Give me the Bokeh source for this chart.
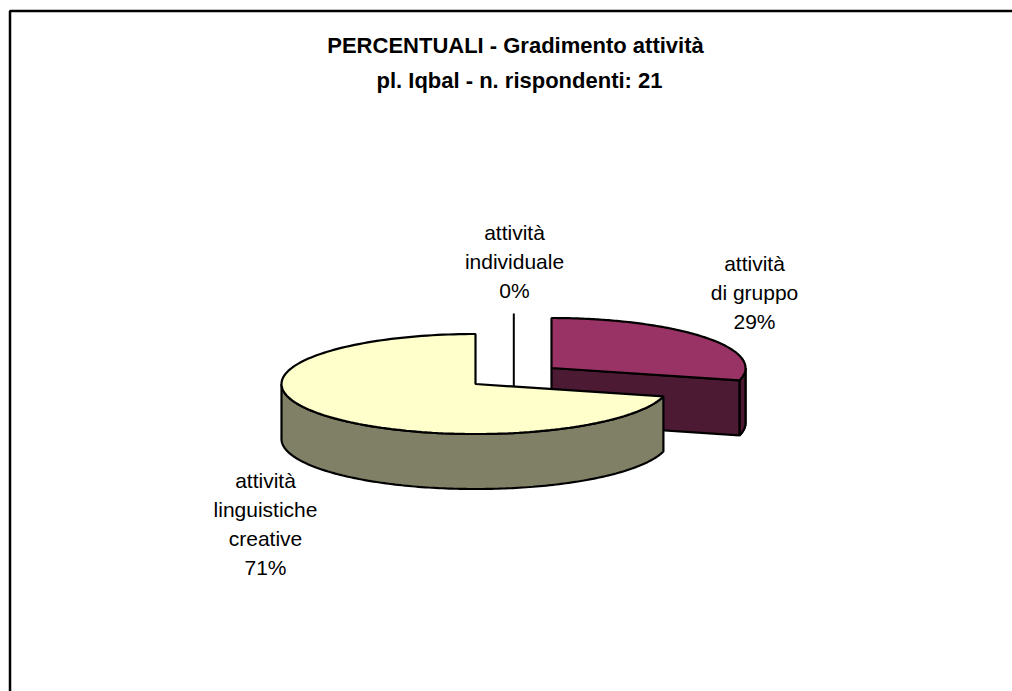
import numpy as np
from bokeh.plotting import figure
from bokeh.models import Range1d
from bokeh.core.properties import value
from bokeh.embed import file_html
from bokeh.resources import INLINE

title_lines = ["PERCENTUALI - Gradimento attività", "pl. Iqbal - n. rispondenti: 21"]
categories = ["attività\ndi gruppo", "attività\nindividuale", "attività\nlinguistiche\ncreative"]
percents = [29, 0, 71]
top_colors = ["#993366", "#FFFFFF", "#FFFFCC"]
side_colors = ["#4D1A33", "#808080", "#808066"]

W, H = 1012, 691
p = figure(width=W, height=H, output_backend="svg", toolbar_location=None,
           x_range=Range1d(0, W), y_range=Range1d(H, 0),
           min_border=0, outline_line_color=None, background_fill_color="white",
           border_fill_color="white")
p.axis.visible = False
p.grid.visible = False

# frame: left and top only reach the picture's edges
p.line([9.5, 9.5, W], [H, 10.5, 10.5], line_color="black", line_width=2.5)

RX, RY, DEPTH = 194, 50, 55
CX, CY = 475, 383.5
EXPLODE = {0: (76, -16), 1: (38, -2), 2: (0, 0)}

def pt(cx, cy, deg):
    a = np.radians(deg)
    return cx + RX * np.sin(a), cy - RY * np.cos(a)

shares = np.array(percents) / sum(percents) * 360
starts = np.concatenate([[0], np.cumsum(shares)[:-1]])
ends = starts + shares

def arc(cx, cy, a0, a1):
    t = np.linspace(a0, a1, 160)
    return pt(cx, cy, t)

def draw_slice(i):
    dx, dy = EXPLODE[i]
    cx, cy = CX + dx, CY + dy
    a0, a1 = starts[i], ends[i]
    lo, hi = max(a0, 90), min(a1, 270)
    if hi > lo:
        xs, ys = arc(cx, cy, lo, hi)
        p.patch(np.r_[xs, xs[::-1]], np.r_[ys, ys[::-1] + DEPTH],
                fill_color=side_colors[i], line_color="black", line_width=2.2)
    if i == 0:
        xs, ys = arc(cx, cy, 90, a1)
        p.patch(np.r_[xs, xs[::-1]], np.r_[ys, ys[::-1] + DEPTH],
                fill_color=side_colors[i], line_color="black", line_width=2.2)
        ex, ey = pt(cx, cy, a1)
        p.patch([cx, ex, ex, cx], [cy, ey, ey + DEPTH, cy + DEPTH],
                fill_color=side_colors[i], line_color="black", line_width=2.2)
    xs, ys = arc(cx, cy, a0, a1)
    p.patch(np.r_[cx, xs], np.r_[cy, ys], fill_color=top_colors[i],
            line_color="black", line_width=2.2)

draw_slice(0)
# the empty slice only shows as a single upright stroke
p.line([513.3, 513.3], [313, 386], line_color="black", line_width=2)
draw_slice(2)

def label(lines, x, y, size, style="normal", step=29):
    for k, s in enumerate(lines):
        p.text([x], [y + k * step], text=[s], text_align="center", text_baseline="middle",
               text_font=value("Liberation Sans"), text_font_size=size,
               text_font_style=style, text_color="black")

label(title_lines[:1], 515, 45, "22px", "bold")
label(title_lines[1:], 519, 79.5, "22px", "bold")
positions = [(754, 263), (514, 232), (265, 480)]
for cat, pct, (x, y) in zip(categories, percents, positions):
    label(cat.split("\n") + [f"{pct}%"], x, y, "21px")

open("out.html", "w").write(file_html(p, INLINE))
